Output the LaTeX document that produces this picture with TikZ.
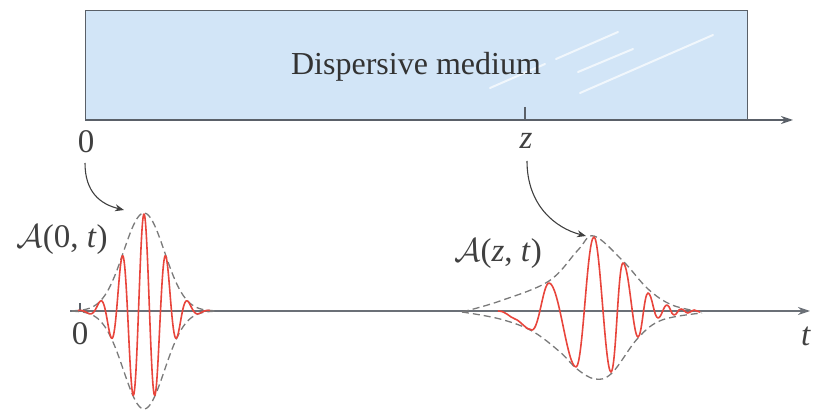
\RequirePackage{fix-cm}
\documentclass[tikz,border=0pt]{standalone}
\usepackage{fontspec}
\setmainfont{Liberation Serif}
\usetikzlibrary{arrows.meta}
\definecolor{medium}{HTML}{D2E5F7}
\definecolor{edge}{HTML}{5A6068}
\definecolor{pulse}{HTML}{E8453C}
\definecolor{env}{HTML}{7A7A7A}
\tikzset{
  axis/.style={draw=edge, line width=1.3pt, -{Stealth[length=12pt,width=8pt]}},
  envelope/.style={draw=env, line width=1.3pt, dash pattern=on 7pt off 4pt},
  wave/.style={draw=pulse, line width=1.6pt, line join=round},
  pointer/.style={draw=black!75, line width=1.1pt, -{Stealth[length=9pt,width=7pt]}},
  lbl/.style={font=\fontsize{33}{38}\selectfont, text=black!75, inner sep=0pt},
  streak/.style={draw=white, line width=2pt, opacity=0.7, line cap=round}
}
\begin{document}
\begin{tikzpicture}[x=1pt,y=-1pt]
\useasboundingbox (0,0) rectangle (819,411);
% medium
\node[draw=edge, line width=1.2pt, fill=medium, minimum width=662pt, minimum height=110pt, inner sep=0pt, anchor=north west] (box) at (85,10) {};
\draw[streak] (490,88) -- (545,64);
\draw[streak] (556,59) -- (618,32);
\draw[streak] (578,72) -- (633,49);
\draw[streak] (580,93) -- (713,35);
\node[inner sep=0pt, font=\fontsize{32}{38}\selectfont, text=black!80] (title) at (416,67) {Dispersive medium};
% top axis
\coordinate (ztop) at (85,120);
\coordinate (zend) at (793,120);
\draw[axis] (ztop) -- (zend);
\coordinate (ztick) at (525,107);
\coordinate (ztickb) at (525,120);
\draw[draw=edge, line width=1.3pt] (ztick) -- (ztickb);
\node[lbl] (zero1) at (86,142) {0};
\node[lbl] (zlab) at (526,141) {\textit{z}};
% bottom axis
\coordinate (tstart) at (70,311);
\coordinate (tend) at (810,311);
\draw[axis, draw=edge!90] (tstart) -- (tend);
\draw[draw=edge, line width=1.2pt] (80,303) -- (80,311);
\node[lbl] (zero2) at (80,334) {0};
\node[lbl] (tlab) at (806,336) {\textit{t}};
% left pulse envelope
\draw[envelope] plot[domain=72:216, samples=80] (\x, {311-98*exp(-((\x-144)/28.9)*((\x-144)/28.9))});
\draw[envelope] plot[domain=72:216, samples=80] (\x, {311+98*exp(-((\x-144)/28.9)*((\x-144)/28.9))});
\draw[wave] plot[domain=78:210, samples=400] (\x, {311-97*exp(-((\x-144)/28.9)*((\x-144)/28.9))*cos(16.3636*(\x-144))});
% right pulse envelope
\draw[envelope] plot[smooth, tension=0.6] coordinates {(462,312) (500,301) (549,281) (578,250) (594,236) (623,261) (648,289) (672,305) (702,312)};
\draw[envelope] plot[smooth, tension=0.6] coordinates {(462,312) (500,319) (532,331) (560,352) (577,369) (595,379) (612,373) (638,338) (662,320) (702,313)};
% right pulse carrier
\draw[wave] (498,311) .. controls +(8,0) and +(-6,-2) .. (515,319)
  .. controls +(6,2) and +(-6,0) .. (532,330)
  .. controls +(7,0) and +(-6,0) .. (549,283)
  .. controls +(10,0) and +(-9,0) .. (576,367)
  .. controls +(7,0) and +(-7,0) .. (594,237)
  .. controls +(6,0) and +(-6,0) .. (611,372)
  .. controls +(5,0) and +(-5,0) .. (623,263)
  .. controls +(6,0) and +(-5,0) .. (638,337)
  .. controls +(4,0) and +(-4,0) .. (648,293)
  .. controls +(4,0) and +(-4,0) .. (658,318)
  .. controls +(3.5,0) and +(-3.5,0) .. (667,305)
  .. controls +(3,0) and +(-3,0) .. (674,315)
  .. controls +(3,0) and +(-3,0) .. (681,309)
  .. controls +(3,0) and +(-3,0) .. (688,313)
  .. controls +(3,0) and +(-3,0) .. (694,310)
  .. controls +(3,0) and +(-3,0) .. (700,312);
% labels
\node[lbl] (a0) at (62,240) {$\mathcal{A}$(0, \textit{t})};
\node[lbl] (az) at (498,254) {$\mathcal{A}$(\textit{z}, \textit{t})};
\coordinate (p0) at (124,210);
\coordinate (pz) at (586,236);
\draw[pointer] (85,163) .. controls (85,192) and (100,204) .. (p0);
\draw[pointer] (527,161) .. controls (527,205) and (555,228) .. (pz);
\end{tikzpicture}
\end{document}
